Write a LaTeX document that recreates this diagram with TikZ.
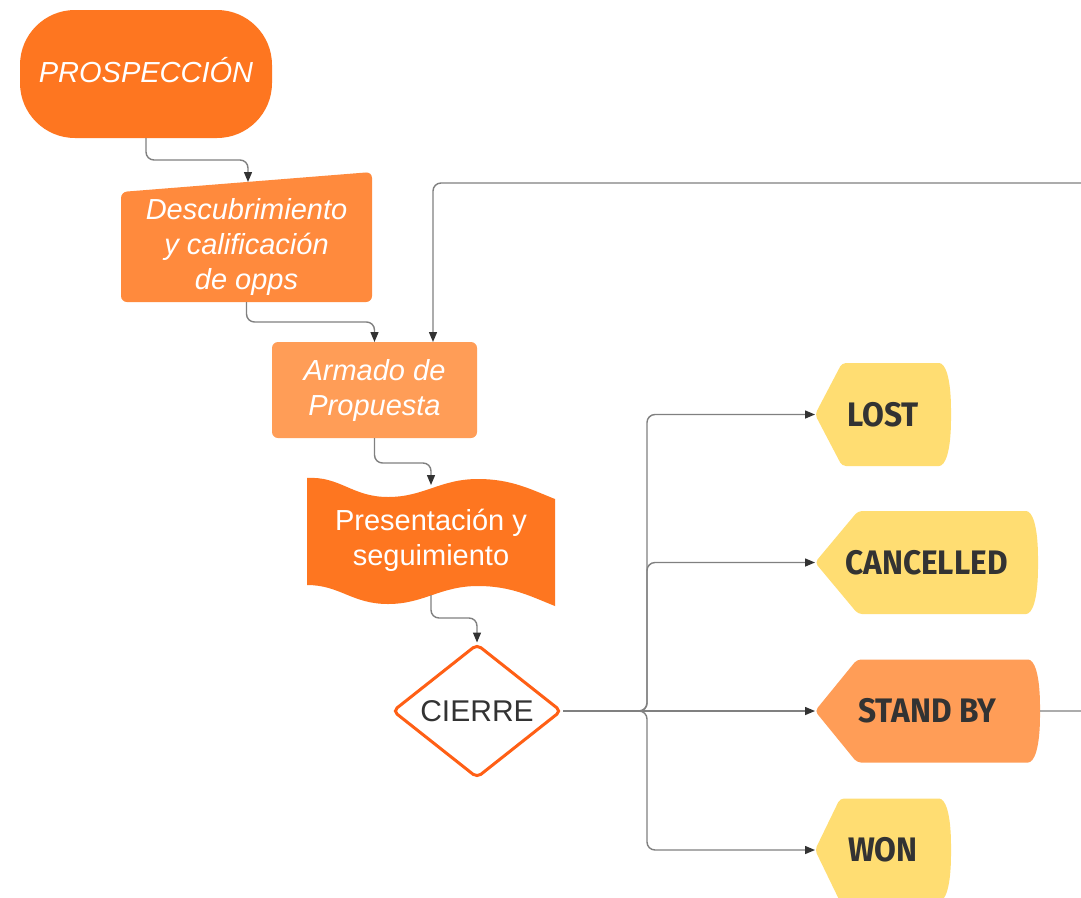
\documentclass[tikz,border=0pt]{standalone}
\usepackage{fontspec}
\setmainfont{Liberation Sans}
\newfontfamily\tagfont[FakeStretch=0.93]{Fira Sans}
\usetikzlibrary{arrows.meta,shapes.geometric,calc}
\definecolor{orA}{HTML}{FE7620}
\definecolor{orB}{HTML}{FF8A3D}
\definecolor{orC}{HTML}{FF9D57}
\definecolor{tagyellow}{HTML}{FFDD72}
\definecolor{dred}{HTML}{FF5F15}
\definecolor{tagdark}{HTML}{333333}
\definecolor{linegrey}{HTML}{808080}
\definecolor{arrowdark}{HTML}{333333}
\newcommand\tagshape[5]{%
  \fill[#5, rounded corners=4pt] (#1,#3) -- (#1+#4,#3-51.5) -- (#2-16,#3-51.5)
    .. controls (#2-6,#3-51.5) and (#2,#3-38) .. (#2,#3)
    .. controls (#2,#3+38) and (#2-6,#3+51.5) .. (#2-16,#3+51.5)
    -- (#1+#4,#3+51.5) -- cycle;}
\tikzset{
  conn/.style={draw=linegrey, line width=1.4pt, rounded corners=8pt,
    -{Triangle[length=10pt,width=8pt,color=arrowdark]}},
  boxtext/.style={font=\fontsize{29}{35}\selectfont\itshape, text=white, align=center, inner sep=0pt, outer sep=0pt},
  tagtext/.style={font=\tagfont\bfseries\fontsize{34}{40}\selectfont, text=tagdark,
    minimum height=103pt, inner sep=0pt, outer sep=0pt},
}
\begin{document}
\begin{tikzpicture}[x=1pt,y=-1pt]
\useasboundingbox (0,0) rectangle (1081,897);
\clip (0,0) rectangle (1081,897);
\fill[white] (0,0) rectangle (1081,897);

% shapes drawn directly
\fill[orB, rounded corners=6pt] (121,192) -- (372,172) -- (372,302) -- (121,302) -- cycle;
\fill[orA] (307,478) .. controls (340,476) and (352,497) .. (388,497)
  .. controls (424,497) and (440,479) .. (478,479)
  .. controls (512,479) and (532,490) .. (555,499)
  -- (555,606) .. controls (532,597) and (512,586) .. (478,586)
  .. controls (440,586) and (424,604) .. (388,604)
  .. controls (352,604) and (340,585) .. (307,585) -- cycle;
\tagshape{815}{951}{414.5}{27}{tagyellow}
\tagshape{815}{1038}{562.5}{43}{tagyellow}
\tagshape{815}{1040}{711}{42}{orC}
\tagshape{815}{951}{850}{25}{tagyellow}

% nodes
\node[boxtext, fill=orA, rounded corners=55pt, minimum width=252pt, minimum height=128pt] (pros) at (146,74) {\raisebox{4pt}[\height][\depth]{PROSPECCIÓN}};
\node[boxtext, minimum width=251pt, minimum height=110pt] (desc) at (246.5,247) {Descubrimiento\\y calificación\\de opps};
\node[boxtext, fill=orC, rounded corners=6pt, minimum width=205pt, minimum height=96pt] (armado) at (374.5,390) {Armado de\\Propuesta};
\node[boxtext, font=\fontsize{29}{35}\selectfont, minimum width=248pt, minimum height=110pt] (pres) at (431,540) {Presentación y\\seguimiento};
\node[diamond, draw=dred, line width=3pt, fill=white, rounded corners=5pt, aspect=1.26,
  minimum width=169pt, minimum height=134pt, inner sep=0pt,
  font=\fontsize{30}{36}\selectfont, text=tagdark] (cierre) at (477,711) {CIERRE};
\node[tagtext, minimum width=136pt] (lost) at (883,414.5) {LOST};
\node[tagtext, minimum width=223pt] (cancel) at (926.5,562.5) {CANCELLED};
\node[tagtext, minimum width=225pt] (standby) at (927.5,711) {STAND BY};
\node[tagtext, minimum width=136pt] (won) at (883,850) {WON};

% helper coordinates
\coordinate (descin) at (248,182);
\coordinate (branch) at (647,711);
\coordinate (loopR) at (1100,711);
\coordinate (loopx) at (433,183);

% connectors
\draw[conn] (pros.south) -- ++(0,22) -| (descin);
\draw[conn] (desc.south) -- ++(0,20) -| (armado.north);
\draw[conn] (armado.south) -- ++(0,25) -| (pres.north);
\draw[conn] (pres.south) -- ++(0,23) -| (cierre.north);
\draw[conn] (cierre.east) -- (branch) |- (lost.west);
\draw[conn] (cierre.east) -- (branch) |- (cancel.west);
\draw[conn] (cierre.east) -- (standby.west);
\draw[conn] (cierre.east) -- (branch) |- (won.west);
\draw[conn] (standby.east) -- (loopR) |- (loopx) -- (loopx |- armado.north);
\end{tikzpicture}
\end{document}
